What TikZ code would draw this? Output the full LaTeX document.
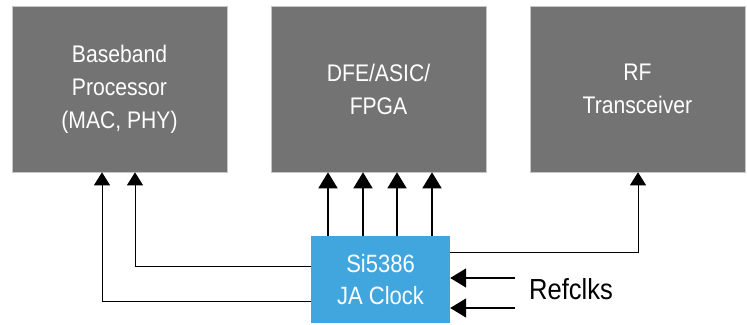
\documentclass[tikz,border=0pt]{standalone}
\usepackage{fontspec}
\setmainfont[FakeStretch=0.88]{Liberation Sans}
\usetikzlibrary{arrows.meta}
\definecolor{boxgray}{HTML}{737373}
\definecolor{clkblue}{HTML}{40A6DD}
\tikzset{
  block/.style={fill=boxgray, draw=gray!45, line width=0.6pt, minimum width=215pt, minimum height=166pt, inner sep=0pt,
    text=white, align=center, font=\fontsize{24}{33}\selectfont},
  clockbox/.style={fill=clkblue, draw=none, minimum width=139pt, minimum height=87pt, inner sep=0pt,
    text=white, align=center, font=\fontsize{25}{32}\selectfont},
  thinarr/.style={line width=1pt, -{Triangle[width=16pt,length=13pt]}},
  thickarr/.style={line width=1.6pt, -{Triangle[width=19pt,length=16pt]}},
}
\begin{document}
\begin{tikzpicture}[x=1pt,y=1pt]
\useasboundingbox (0,0) rectangle (747,324);
\node[block] (bb) at (119.5,235) {Baseband\\Processor\\(MAC, PHY)};
\node[block] (dfe) at (378.5,235) {DFE/ASIC/\\FPGA};
\node[block] (rf) at (637.5,235) {RF\\Transceiver};
\node[clockbox] (clk) at (380.5,44.5) {Si5386\\JA Clock};
\foreach \x in {328,363,397,432}
  \draw[thickarr] (clk.north -| \x,0) -- (dfe.south -| \x,0);
\draw[thinarr] (clk.west |- 0,57) -| (bb.south -| 135,0);
\draw[thinarr] (clk.west |- 0,22) -| (bb.south -| 102,0);
\draw[thinarr] (clk.east |- 0,71) -| (rf.south -| 638,0);
\coordinate (r1) at (515,46);
\coordinate (r2) at (515,16);
\draw[thickarr] (r1) -- (clk.east |- r1);
\draw[thickarr] (r2) -- (clk.east |- r2);
\node[anchor=base west, inner sep=0pt, font=\fontsize{29}{32}\selectfont] (ref) at (529,24) {Refclks};
\end{tikzpicture}
\end{document}
